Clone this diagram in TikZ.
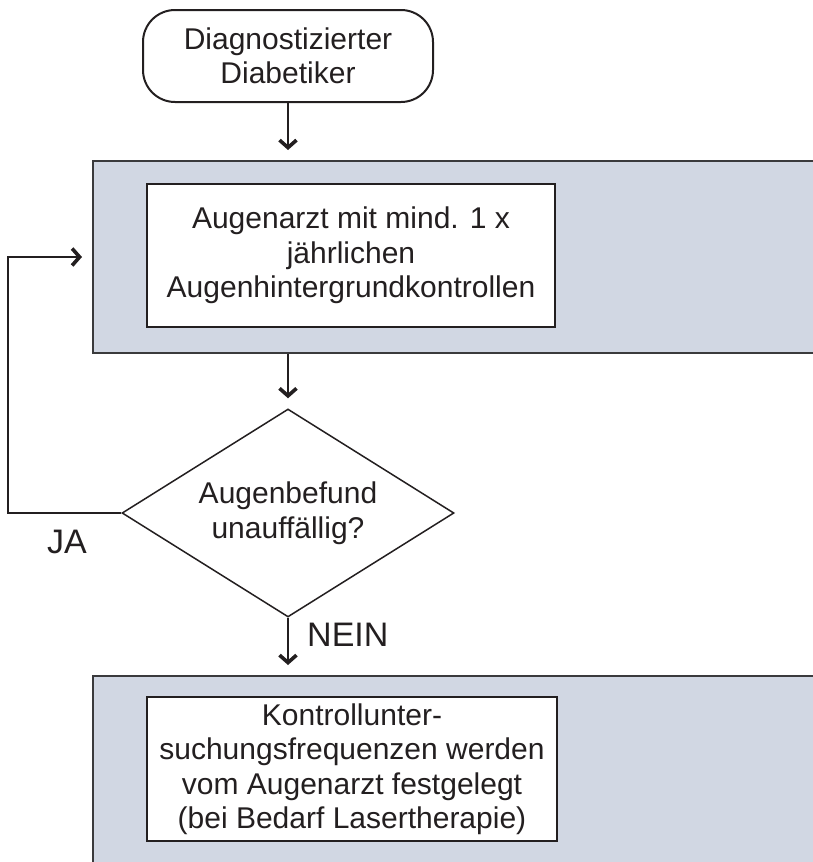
\documentclass[tikz,border=0pt]{standalone}
\usepackage{fontspec}
\setmainfont{Liberation Sans}
\usetikzlibrary{shapes.geometric,arrows.meta}
\definecolor{ink}{RGB}{35,31,32}
\definecolor{panelfill}{RGB}{209,215,227}
\definecolor{edge}{RGB}{58,58,60}

\begin{document}
\begin{tikzpicture}[x=1pt,y=-1pt,
  every node/.style={font=\fontsize{30}{34.5}\selectfont, text=ink, inner sep=0pt},
  panel/.style={rectangle, fill=panelfill, draw=edge, line width=2pt,
    minimum width=738pt, anchor=north west},
  box/.style={rectangle, fill=white, draw=ink, line width=1.8pt, align=center},
  startbox/.style={rectangle, rounded corners=32pt, draw=ink, line width=2pt,
    align=center, minimum width=290pt, minimum height=92pt},
  decision/.style={diamond, draw=ink, line width=1.5pt, align=center,
    aspect=1.6, minimum width=332pt, minimum height=208pt},
  conn/.style={draw=ink, line width=1.8pt,
    -{Straight Barb[length=7.5pt,width=17pt,line width=3.6pt]}, shorten >=10pt},
  tag/.style={font=\fontsize{34}{40}\selectfont}
]
\useasboundingbox (0,0) rectangle (813,862);
\clip (0,0) rectangle (813,862);

% shaded panels (they run off the right and bottom edges)
\node[panel, minimum height=192pt] (panel1) at (92,160) {};
\node[panel, minimum height=205pt] (panel2) at (92,675) {};

% flow elements
\node[startbox] (start) at (288,56) {Diagnostizierter\\Diabetiker};
\node[box, minimum width=408pt, minimum height=143pt] (check) at (351,255.5)
  {Augenarzt mit mind. 1 x\\jährlichen\\Augenhintergrundkontrollen};
\node[decision] (dia) at (288,513) {Augenbefund\\unauffällig?};
\node[box, minimum width=410pt, minimum height=144pt] (follow) at (352,769)
  {Kontrollunter-\\suchungsfrequenzen werden\\vom Augenarzt festgelegt\\(bei Bedarf Lasertherapie)};

% branch labels
\node[tag] (ja) at (67,542) {JA};
\node[tag, anchor=west] (nein) at (307,635) {NEIN};

% connectors
\coordinate (loopc) at (8,257);
\draw[conn] (start.south) -- (start.south |- panel1.north);
\draw[conn] (panel1.south -| dia.north) -- (dia.north);
\draw[conn] (dia.south) -- (dia.south |- panel2.north);
\draw[conn] (dia.west) -| (loopc) -- (loopc -| panel1.west);
\end{tikzpicture}
\end{document}
